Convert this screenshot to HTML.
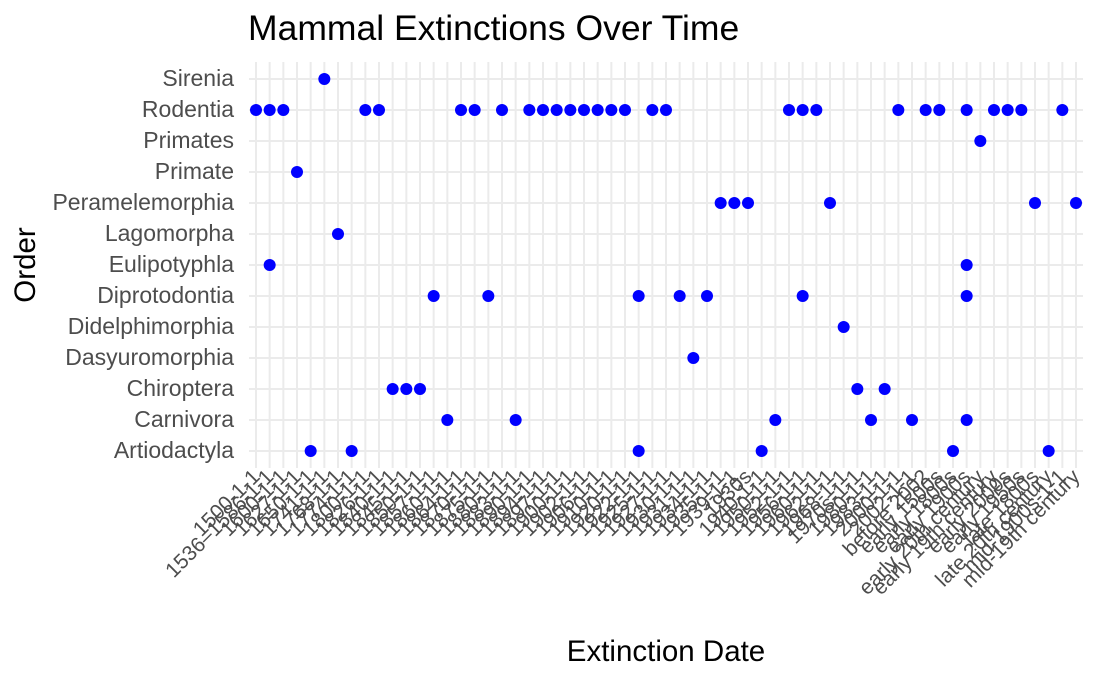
<!DOCTYPE html>
<html><head><meta charset="utf-8"><style>
body{margin:0;background:#fff;font-family:"Liberation Sans",Arial,sans-serif}
</style></head><body>
<svg id="chart" width="1100" height="679" xmlns="http://www.w3.org/2000/svg" font-family="Liberation Sans, Arial, sans-serif"></svg>
<script>
const orders=["Artiodactyla","Carnivora","Chiroptera","Dasyuromorphia","Didelphimorphia","Diprotodontia","Eulipotyphla","Lagomorpha","Peramelemorphia","Primate","Primates","Rodentia","Sirenia"];
const dates=["1500-1-1","1536–1586-1-1","1600-1-1","1627-1-1","1650-1-1","1741-1-1","1768-1-1","1774-1-1","1800-1-1","1826-1-1","1840-1-1","1845-1-1","1850-1-1","1857-1-1","1860-1-1","1864-1-1","1870-1-1","1875-1-1","1880-1-1","1883-1-1","1890-1-1","1894-1-1","1897-1-1","1900-1-1","1902-1-1","1906-1-1","1910-1-1","1920-1-1","1922-1-1","1925-1-1","1927-1-1","1930-1-1","1931-1-1","1934-1-1","1935-1-1","1939-1-1","1930s","1940-1-1","1950-1-1","1952-1-1","1956-1-1","1960-1-1","1962-1-1","1968-1-1","1970s-1-1","1980-1-1","1983-1-1","2000-1-1","2002-1-1","before 2002","early 1500s","early 1800s","early 1900s","early 20th century","early 19th century","early 2000s","early 1950s","late 1800s","late 20th century","mid-1900s-1-1","mid-19th century"];
const ptOrder=["Sirenia","Rodentia","Rodentia","Rodentia","Rodentia","Rodentia","Rodentia","Rodentia","Rodentia","Rodentia","Rodentia","Rodentia","Rodentia","Rodentia","Rodentia","Rodentia","Rodentia","Rodentia","Rodentia","Rodentia","Rodentia","Rodentia","Rodentia","Rodentia","Rodentia","Rodentia","Rodentia","Rodentia","Rodentia","Rodentia","Primates","Primate","Peramelemorphia","Peramelemorphia","Peramelemorphia","Peramelemorphia","Peramelemorphia","Peramelemorphia","Lagomorpha","Eulipotyphla","Eulipotyphla","Diprotodontia","Diprotodontia","Diprotodontia","Diprotodontia","Diprotodontia","Diprotodontia","Diprotodontia","Didelphimorphia","Dasyuromorphia","Chiroptera","Chiroptera","Chiroptera","Chiroptera","Chiroptera","Carnivora","Carnivora","Carnivora","Carnivora","Carnivora","Carnivora","Artiodactyla","Artiodactyla","Artiodactyla","Artiodactyla","Artiodactyla","Artiodactyla"];
const ptDateIdx=[5,0,1,2,8,9,15,16,18,20,21,22,23,24,25,26,27,29,30,39,40,41,47,49,50,52,54,55,56,59,53,3,34,35,36,42,57,60,6,1,52,13,17,28,31,33,40,52,43,32,10,11,12,44,46,14,19,38,45,48,52,4,7,28,37,51,58];
const NS="http://www.w3.org/2000/svg";
const svg=document.getElementById('chart');
function mk(t,a,p){const e=document.createElementNS(NS,t);for(const k in a)e.setAttribute(k,a[k]);(p||svg).appendChild(e);return e;}
const x0=256,dx=(1076-256)/(dates.length-1);
const xs=i=>x0+i*dx;
const yTop=79,dy=31;
const ys=o=>yTop+(orders.length-1-orders.indexOf(o))*dy;
const gx=mk('g',{});
dates.forEach((d,i)=>{mk('line',{x1:xs(i),x2:xs(i),y1:62,y2:468,stroke:'#ebebeb','stroke-width':2},gx);});
const gy=mk('g',{});
orders.forEach(o=>{mk('line',{x1:249,x2:1083,y1:ys(o),y2:ys(o),stroke:'#ebebeb','stroke-width':2},gy);
const t=mk('text',{x:234,y:ys(o)+7,'text-anchor':'end','font-size':23,fill:'#4d4d4d'});t.textContent=o;
});
dates.forEach((d,i)=>{const x=xs(i)+5,y=478;
const t=mk('text',{x:x,y:y,'text-anchor':'end','font-size':21,fill:'#4d4d4d',transform:`rotate(-45 ${x} ${y})`});t.textContent=d;
});
ptOrder.forEach((o,i)=>{const c=mk('circle',{cx:xs(ptDateIdx[i]),cy:ys(o),r:6,fill:'#0000ff'});
});
let t=mk('text',{x:248,y:40,'font-size':35.5,fill:'#000'});t.textContent='Mammal Extinctions Over Time';

t=mk('text',{x:666,y:661,'text-anchor':'middle','font-size':29.5,fill:'#000'});t.textContent='Extinction Date';

t=mk('text',{x:35,y:265,'text-anchor':'middle','font-size':29.5,fill:'#000',transform:'rotate(-90 35 265)'});t.textContent='Order';

</script>
</body></html>
